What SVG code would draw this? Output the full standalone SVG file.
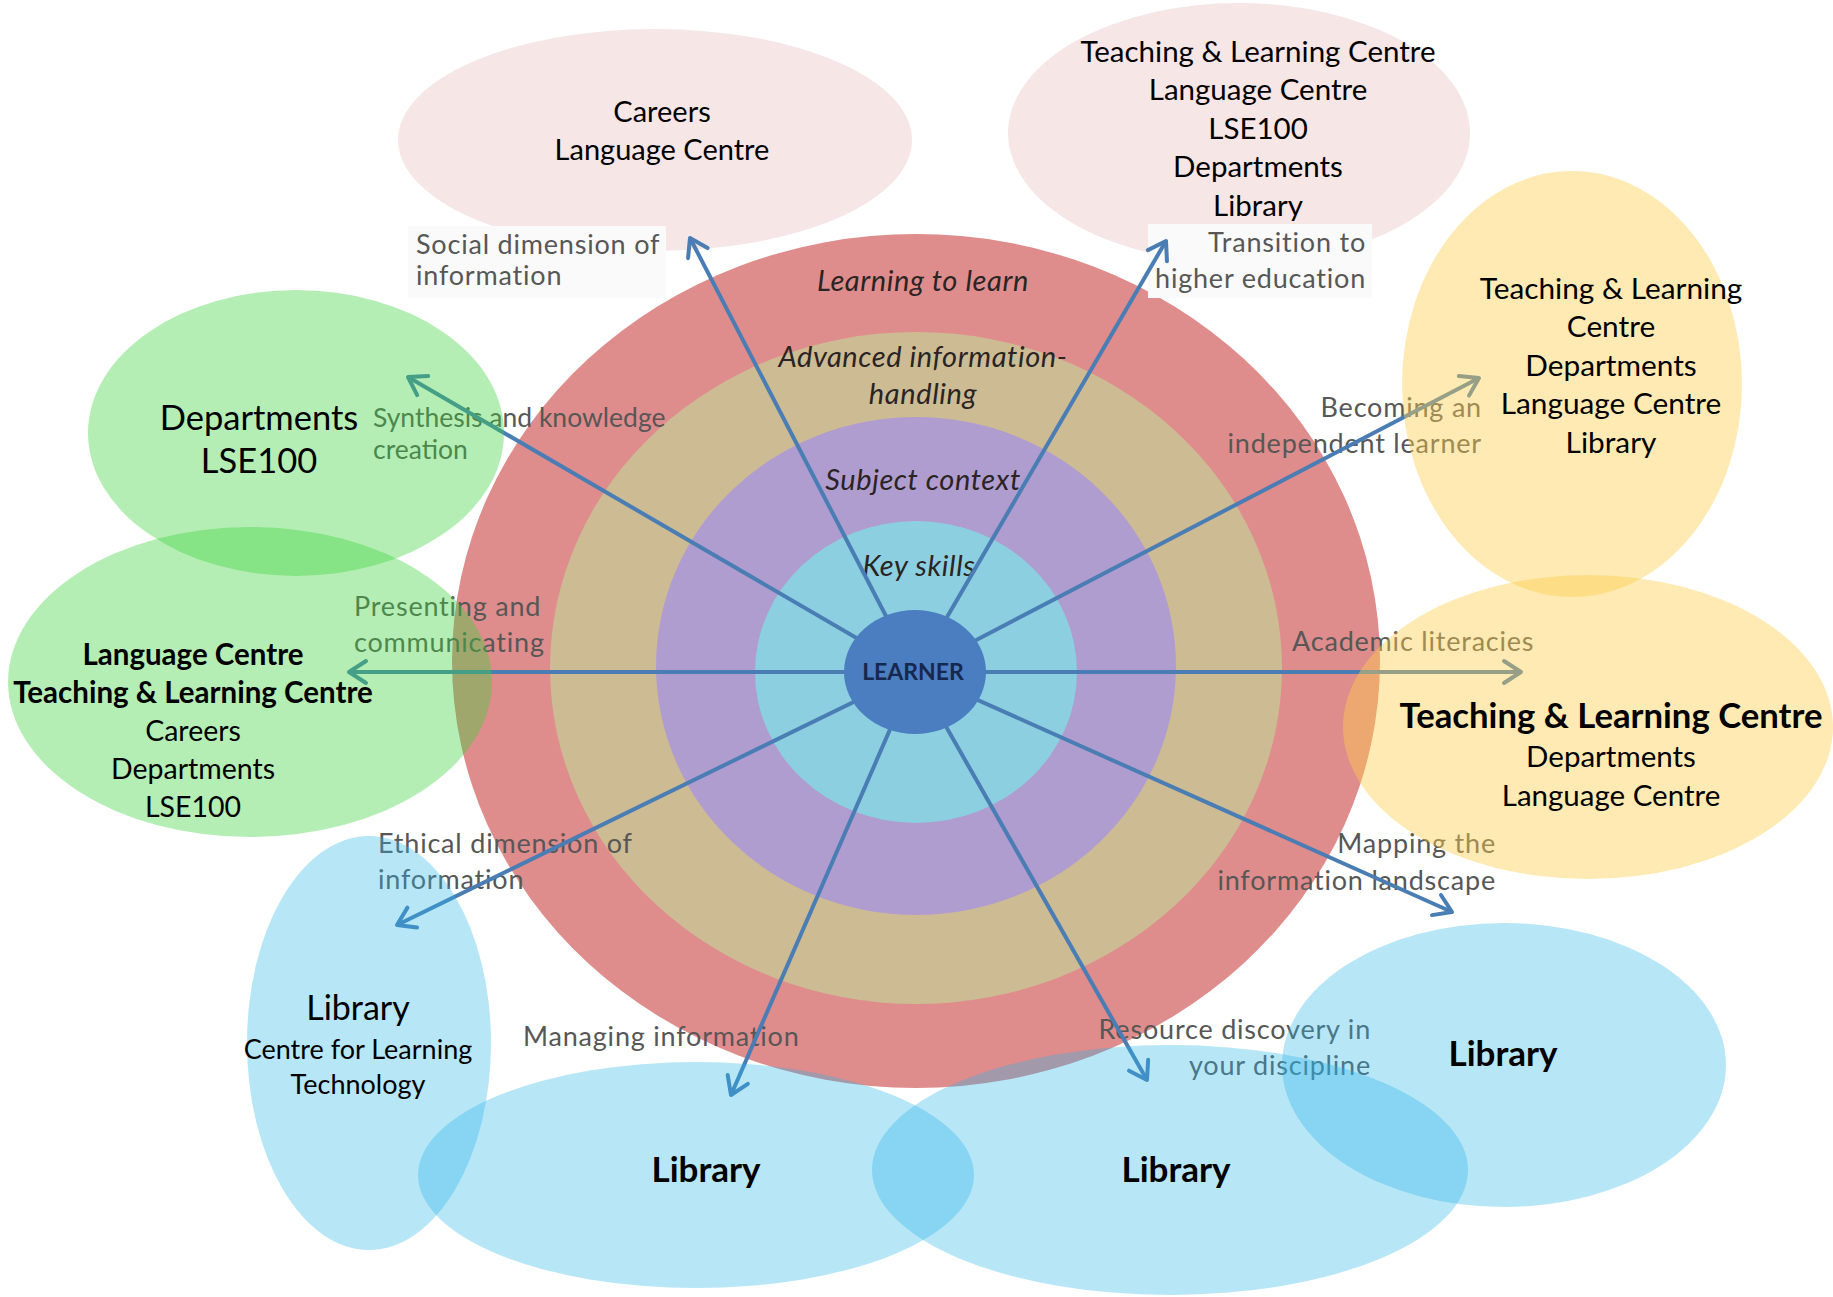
<svg xmlns="http://www.w3.org/2000/svg" width="1833" height="1297" viewBox="0 0 1833 1297">
<defs>
<style>
.nt{font-family:Lato,"Liberation Sans",sans-serif;fill:#000;text-anchor:middle}
.b{font-weight:bold}
.lb{font-family:Lato,"Liberation Sans",sans-serif;font-size:27px;letter-spacing:0.8px;fill:#575757}
.lbn{font-size:26.5px;letter-spacing:0px}
.rl{font-family:Lato,"Liberation Sans",sans-serif;font-size:29px;letter-spacing:0.6px;font-style:italic;fill:#2a2424;text-anchor:middle}
.pink{fill:#f6e6e6}
.green{fill:#3dd33d;fill-opacity:0.39}
.yellow{fill:#fcce4c;fill-opacity:0.43}
.blue{fill:#2db5e7;fill-opacity:0.34}
.arr{stroke:#4a7db4;stroke-width:4;fill:none;marker-end:url(#ah)}
</style>
<marker id="ah" viewBox="-22 -14 26 28" refX="0" refY="0" markerWidth="26" markerHeight="28" markerUnits="userSpaceOnUse" orient="auto">
<path d="M-17,-11 L0,0 L-17,11" fill="none" stroke="#4a7db4" stroke-width="4" stroke-linecap="round" stroke-linejoin="round"/>
</marker>
</defs>
<rect width="1833" height="1297" fill="#ffffff"/>

<g id="node-social">
<ellipse class="pink" cx="655" cy="140" rx="257" ry="111"/>
<text class="nt" font-size="29" x="662" y="122">Careers</text>
<text class="nt" font-size="29" x="662" y="160">Language Centre</text>
</g>
<g id="node-transition">
<ellipse class="pink" cx="1239" cy="133" rx="231" ry="130"/>
<text class="nt" font-size="29.5" x="1258" y="62">Teaching &amp; Learning Centre</text>
<text class="nt" font-size="29.5" x="1258" y="100">Language Centre</text>
<text class="nt" font-size="29.5" x="1258" y="139">LSE100</text>
<text class="nt" font-size="29.5" x="1258" y="177">Departments</text>
<text class="nt" font-size="29.5" x="1258" y="216">Library</text>
</g>

<g id="rings">
<ellipse cx="916" cy="661" rx="464" ry="427" fill="#df8c8c"/>
<ellipse cx="916" cy="668" rx="366" ry="336" fill="#cdbb94"/>
<ellipse cx="916" cy="666" rx="260" ry="249" fill="#b09dcf"/>
<ellipse cx="916" cy="672" rx="161" ry="151" fill="#8ccfe0"/>
<text class="rl" x="923" y="291">Learning to learn</text>
<text class="rl" x="923" y="367">Advanced information-</text>
<text class="rl" x="923" y="404">handling</text>
<text class="rl" x="923" y="490">Subject context</text>
<text class="rl" x="919" y="576">Key skills</text>
</g>

<g id="labels">
<rect x="408" y="226" width="258" height="72" fill="#fafafa"/>
<rect x="1148" y="224" width="224" height="74" fill="#fafafa"/>
<text class="lb" x="416" y="254">Social dimension of</text>
<text class="lb" x="416" y="285">information</text>
<text class="lb" x="1366" y="252" text-anchor="end">Transition to</text>
<text class="lb" x="1366" y="288" text-anchor="end">higher education</text>
<text class="lb lbn" x="373" y="427">Synthesis and knowledge</text>
<text class="lb lbn" x="373" y="459">creation</text>
<text class="lb" x="354" y="616">Presenting and</text>
<text class="lb" x="354" y="652">communicating</text>
<text class="lb" x="1482" y="417" text-anchor="end">Becoming an</text>
<text class="lb" x="1482" y="453" text-anchor="end">independent learner</text>
<text class="lb" x="1292" y="651">Academic literacies</text>
<text class="lb" x="1496" y="853" text-anchor="end">Mapping the</text>
<text class="lb" x="1496" y="890" text-anchor="end">information landscape</text>
<text class="lb" x="378" y="853">Ethical dimension of</text>
<text class="lb" x="378" y="889">information</text>
<text class="lb" x="523" y="1046">Managing information</text>
<text class="lb" x="1371" y="1039" text-anchor="end">Resource discovery in</text>
<text class="lb" x="1371" y="1075" text-anchor="end">your discipline</text>
</g>

<g id="connectors">
<line class="arr" x1="915" y1="672" x2="690" y2="238"/>
<line class="arr" x1="915" y1="672" x2="1166" y2="241"/>
<line class="arr" x1="915" y1="672" x2="1479" y2="378"/>
<line class="arr" x1="915" y1="672" x2="1521" y2="672"/>
<line class="arr" x1="915" y1="672" x2="1452" y2="912"/>
<line class="arr" x1="915" y1="672" x2="1147" y2="1080"/>
<line class="arr" x1="915" y1="672" x2="731" y2="1095"/>
<line class="arr" x1="915" y1="672" x2="397" y2="925"/>
<line class="arr" x1="915" y1="672" x2="349" y2="672"/>
<line class="arr" x1="915" y1="672" x2="408" y2="377"/>
</g>

<g id="node-learner">
<ellipse cx="915" cy="672" rx="71" ry="62" fill="#4a7ec0"/>
<text x="913" y="680" font-family="Lato,'Liberation Sans',sans-serif" font-size="23" font-weight="bold" fill="#16284d" text-anchor="middle">LEARNER</text>
</g>

<g id="node-synthesis">
<ellipse class="green" cx="296" cy="433" rx="208" ry="143"/>
<text class="nt" font-size="34.5" x="259" y="430">Departments</text>
<text class="nt" font-size="34.5" x="259" y="473">LSE100</text>
</g>
<g id="node-presenting">
<ellipse class="green" cx="250" cy="682" rx="242" ry="155"/>
<text class="nt b" font-size="29.5" x="193" y="665">Language Centre</text>
<text class="nt b" font-size="29.5" x="193" y="703">Teaching &amp; Learning Centre</text>
<text class="nt" font-size="28.5" x="193" y="741">Careers</text>
<text class="nt" font-size="28.5" x="193" y="779">Departments</text>
<text class="nt" font-size="28.5" x="193" y="817">LSE100</text>
</g>
<g id="node-independent">
<ellipse class="yellow" cx="1572" cy="384" rx="170" ry="213"/>
<text class="nt" font-size="29.8" x="1611" y="299">Teaching &amp; Learning</text>
<text class="nt" font-size="29.8" x="1611" y="337">Centre</text>
<text class="nt" font-size="29.8" x="1611" y="376">Departments</text>
<text class="nt" font-size="29.8" x="1611" y="414">Language Centre</text>
<text class="nt" font-size="29.8" x="1611" y="453">Library</text>
</g>
<g id="node-academic">
<ellipse class="yellow" cx="1588" cy="727" rx="245" ry="152"/>
<text class="nt b" font-size="34.7" x="1611" y="728">Teaching &amp; Learning Centre</text>
<text class="nt" font-size="29.5" x="1611" y="767">Departments</text>
<text class="nt" font-size="29.5" x="1611" y="806">Language Centre</text>
</g>
<g id="node-ethical">
<ellipse class="blue" cx="369" cy="1043" rx="122" ry="207"/>
<text class="nt" font-size="34" x="358" y="1020">Library</text>
<text class="nt" font-size="27" x="358" y="1059">Centre for Learning</text>
<text class="nt" font-size="27" x="358" y="1094">Technology</text>
</g>
<g id="node-managing">
<ellipse class="blue" cx="696" cy="1175" rx="278" ry="113"/>
<text class="nt b" font-size="35" x="706" y="1182">Library</text>
</g>
<g id="node-resource">
<ellipse class="blue" cx="1170" cy="1170" rx="298" ry="125"/>
<text class="nt b" font-size="35" x="1176" y="1182">Library</text>
</g>
<g id="node-mapping">
<ellipse class="blue" cx="1504" cy="1065" rx="222" ry="142"/>
<text class="nt b" font-size="35" x="1503" y="1066">Library</text>
</g>
</svg>
